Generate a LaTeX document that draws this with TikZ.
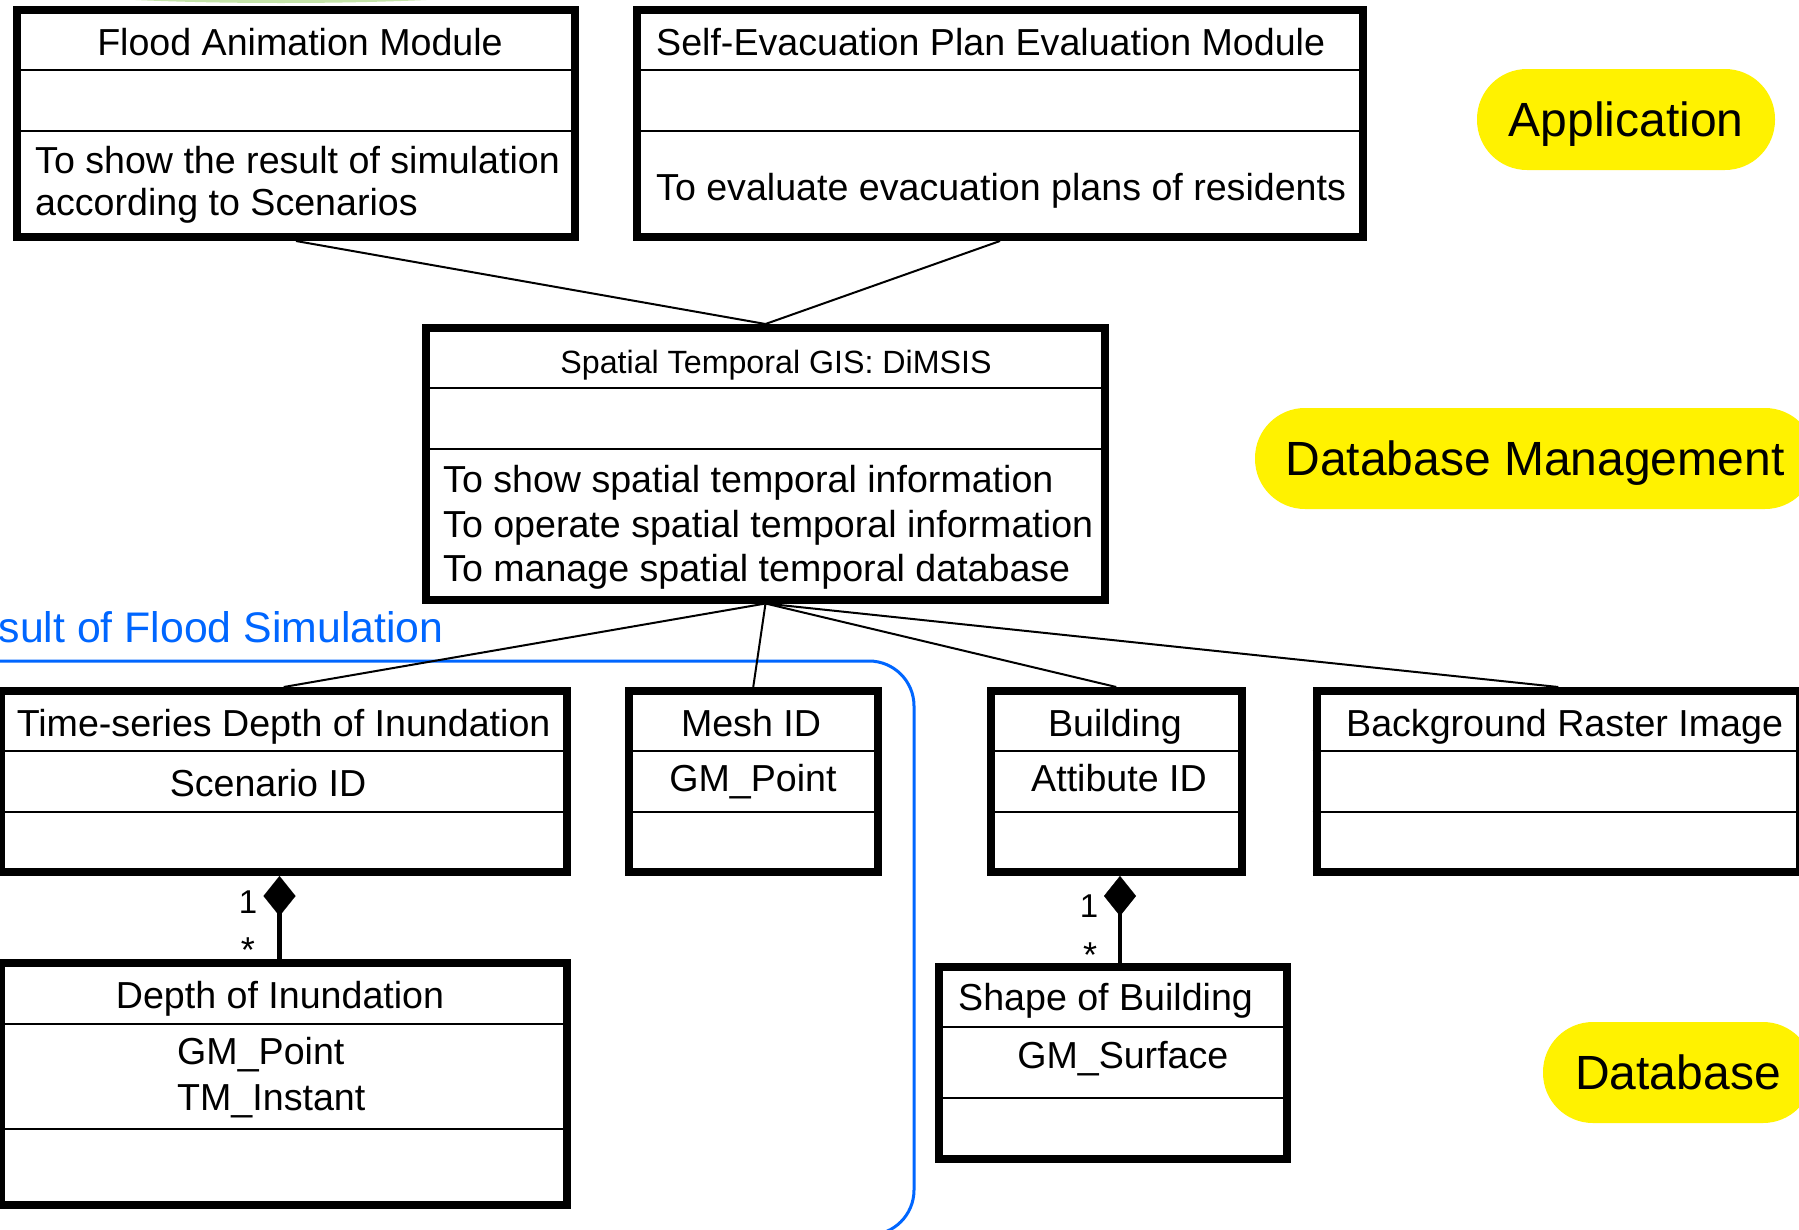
\documentclass[tikz,border=0pt]{standalone}
\usepackage{fontspec}
\setmainfont{Liberation Sans}
\usetikzlibrary{arrows.meta}
\definecolor{simblue}{RGB}{0,102,255}
\definecolor{paleleaf}{RGB}{196,228,168}

\tikzset{
  classbox/.style={draw, line width=8pt, outer sep=4pt, inner sep=0pt, fill=white},
  divider/.style={line width=2pt},
  link/.style={line width=2pt},
  compose/.style={line width=4.5pt, -{Diamond[length=40pt,width=32pt,line width=0.1pt]}},
  txt/.style={font=\fontsize{37.6}{44}\selectfont, inner sep=0pt, anchor=base},
  mult/.style={font=\fontsize{33}{38}\selectfont, inner sep=0pt, anchor=base},
  pill/.style={fill=yellow, rounded corners=50pt, font=\fontsize{48}{56}\selectfont,
    text height=34.8pt, text depth=0pt, inner sep=0pt, minimum height=101pt},
  simline/.style={draw=simblue, line width=3pt, rounded corners=45pt}
}

\begin{document}
\begin{tikzpicture}[x=1pt, y=-1pt]
\useasboundingbox (0,0) rectangle (1799,1229);
\clip (0,0) rectangle (1799,1229);

\fill[paleleaf] (281,-21) ellipse (300pt and 24pt); % green strip at top

% frame of the simulation result
\draw[simline] (-60,661) -- (914,661) -- (914,1235) -- (-60,1235);
\node[txt, anchor=base west, text=simblue, font=\fontsize{42.8}{50}\selectfont] (simlabel) at (-1.5,642) {sult of Flood Simulation};

% class boxes
\node[classbox, minimum width=558pt, minimum height=227pt] (flood) at (296,123.5) {};
\node[classbox, minimum width=726pt, minimum height=227pt] (evalmod) at (1000,123.5) {};
\node[classbox, minimum width=679pt, minimum height=271.5pt] (dimsis) at (765.5,463.75) {};
\node[classbox, minimum width=566.5pt, minimum height=181pt] (series) at (283.75,781.5) {};
\node[classbox, minimum width=248.5pt, minimum height=181pt] (mesh) at (753.25,781.5) {};
\node[classbox, minimum width=250.5pt, minimum height=181pt] (building) at (1116.25,781.5) {};
\node[classbox, minimum width=483.5pt, minimum height=181pt] (raster) at (1558.25,781.5) {};
\node[classbox, minimum width=566.5pt, minimum height=241.5pt] (depth) at (283.75,1083.75) {};
\node[classbox, minimum width=347.5pt, minimum height=192.5pt] (shape) at (1112.75,1062.75) {};

% compartments
\foreach \n/\a/\b in {flood/70/131, evalmod/70/131, dimsis/388/449, series/751/812, mesh/751/812,
    building/751/812, raster/751/812, depth/1023.7/1129, shape/1027/1098}
  \draw[divider] (\n.west |- 0,\a) -- (\n.east |- 0,\a) (\n.west |- 0,\b) -- (\n.east |- 0,\b);

% links
\draw[link] (flood.south) -- (dimsis.north);
\draw[link] (evalmod.south) -- (dimsis.north);
\foreach \n in {series, mesh, building, raster}
  \draw[link] (dimsis.south) -- (\n.north);

% compositions
\coordinate (sdiam) at ([xshift=-4.25pt]series.south);
\coordinate (bdiam) at ([xshift=3.75pt]building.south);
\draw[compose] (depth.north -| sdiam) -- (sdiam);
\draw[compose] (shape.north -| bdiam) -- (bdiam);
\node[mult] (sone) at (248,913) {1};
\node[mult, font=\fontsize{36}{40}\selectfont] (sstar) at (248,962) {*};
\node[mult] (bone) at (1089,917) {1};
\node[mult, font=\fontsize{36}{40}\selectfont] (bstar) at (1090,967) {*};

% texts
\node[txt] (floodname) at (300,55) {Flood Animation Module};
\node[txt, anchor=base west] (floodop1) at (35,173) {To show the result of simulation};
\node[txt, anchor=base west] (floodop2) at (35,215) {according to Scenarios};
\node[txt, anchor=base west] (evalname) at (656,55) {Self-Evacuation Plan Evaluation Module};
\node[txt, anchor=base west] (evalop) at (656,200) {To evaluate evacuation plans of residents};
\node[txt, font=\fontsize{32.2}{38}\selectfont] (dimsisname) at (776,373) {Spatial Temporal GIS: DiMSIS};
\node[txt, anchor=base west] (dimsisop1) at (443,492) {To show spatial temporal information};
\node[txt, anchor=base west] (dimsisop2) at (443,537) {To operate spatial temporal information};
\node[txt, anchor=base west] (dimsisop3) at (443,581) {To manage spatial temporal database};
\node[txt] (seriesname) at (283.6,736.5) {Time-series Depth of Inundation};
\node[txt] (seriesattr) at (268,796) {Scenario ID};
\node[txt] (meshname) at (751,736.5) {Mesh ID};
\node[txt] (meshattr) at (753,791) {GM\_Point};
\node[txt] (buildname) at (1115,736.5) {Building};
\node[txt] (buildattr) at (1119,791) {Attibute ID};
\node[txt] (rastername) at (1564.6,736.5) {Background Raster Image};
\node[txt] (depthname) at (280,1008) {Depth of Inundation};
\node[txt, anchor=base west] (depthattr1) at (177,1064) {GM\_Point};
\node[txt, anchor=base west] (depthattr2) at (177,1110) {TM\_Instant};
\node[txt, anchor=base west] (shapename) at (958,1010.5) {Shape of Building};
\node[txt] (shapeattr) at (1122.8,1068.4) {GM\_Surface};

% layer tags
\node[pill, minimum width=298pt] (apptag) at (1626,119.5) {Application};
\node[pill, minimum width=560pt] (mgmttag) at (1535,458.5) {Database Management};
\node[pill, minimum width=270pt] (datatag) at (1678,1072.5) {Database};
\end{tikzpicture}
\end{document}
